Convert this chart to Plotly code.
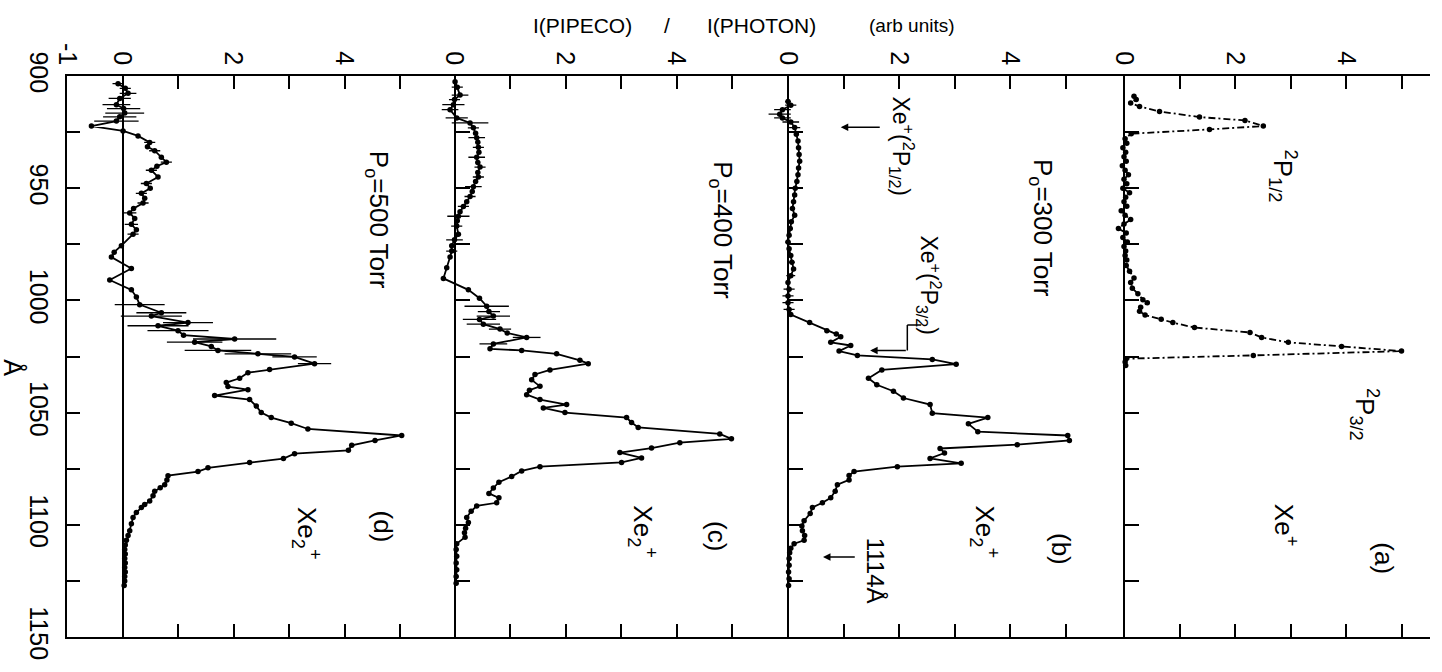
import plotly.graph_objects as go

# ---------------- data ----------------
# Panel (d)  P0 = 500 Torr
lam_d = [903.4, 905.5, 907.7, 910.0, 912.8, 914.5, 916.5, 918.2, 920.1, 922.3,
         924.5, 926.7, 929.6, 931.5, 933.3, 936.2, 938.4, 940.2, 942.0, 945.0,
         947.9, 950.0, 952.3, 954.5, 956.6, 959.0, 961.0, 963.5, 966.1, 968.5,
         970.5, 975.6, 978.5, 980.7, 985.8, 990.9, 995.3, 998.5, 1001.9, 1005.5,
         1007.0, 1009.9, 1011.3, 1013.5, 1015.5, 1017.2, 1018.6, 1020.5, 1022.3, 1023.8,
         1025.2, 1028.2, 1030.8, 1032.2, 1034.7, 1036.6, 1038.4, 1039.8, 1042.4, 1044.2,
         1047.1, 1050.0, 1052.2, 1054.7, 1057.3, 1060.2, 1062.4, 1064.6, 1066.8, 1068.3,
         1070.5, 1072.2, 1074.6, 1076.3, 1078.1, 1080.0, 1082.1, 1083.5, 1085.1, 1087.0,
         1089.4, 1091.0, 1092.3, 1094.5, 1096.7, 1099.5, 1102.6, 1104.8, 1106.9, 1109.0,
         1111.0, 1113.0, 1115.0, 1117.0, 1119.0, 1121.0, 1123.0, 1125.0, 1127.0]
val_d = [-0.08, 0.05, 0.10, -0.05, -0.11, 0.02, 0.04, -0.05, -0.11, -0.56,
         0.01, 0.28, 0.49, 0.45, 0.58, 0.70, 0.79, 0.62, 0.52, 0.64,
         0.43, 0.50, 0.34, 0.40, 0.37, 0.20, 0.13, 0.22, 0.16, 0.25,
         0.19, -0.02, -0.15, -0.20, 0.16, -0.23, 0.16, 0.25, 0.31, 0.70,
         0.52, 1.18, 0.64, 1.00, 1.10, 2.02, 1.30, 1.60, 1.72, 2.44,
         3.10, 3.46, 2.65, 2.26, 2.11, 1.87, 1.90, 2.26, 1.66, 2.29,
         2.41, 2.50, 2.68, 3.04, 3.34, 5.03, 4.55, 4.13, 4.07, 3.10,
         2.90, 2.29, 1.54, 1.36, 0.82, 0.80, 0.76, 0.68, 0.58, 0.55,
         0.49, 0.40, 0.34, 0.25, 0.19, 0.16, 0.13, 0.10, 0.07, 0.05,
         0.04, 0.05, 0.04, 0.05, 0.04, 0.05, 0.04, 0.04, 0.03]
err_d = [0.10, 0.10, 0.15, 0.20, 0.25, 0.30, 0.35, 0.30, 0.40, 0,
         0, 0, 0.10, 0, 0.10, 0, 0.10, 0, 0.10, 0,
         0.10, 0, 0.10, 0, 0.10, 0, 0.12, 0, 0.12, 0,
         0.10, 0, 0, 0, 0, 0, 0, 0, 0.45, 0.45,
         0.55, 0.45, 0.55, 0.55, 0, 0.75, 0.50, 0, 0.60, 0.60,
         0.40, 0.30, 0, 0, 0, 0, 0, 0, 0, 0,
         0, 0, 0, 0, 0, 0, 0, 0, 0, 0,
         0, 0, 0, 0, 0, 0, 0, 0, 0, 0,
         0, 0, 0, 0, 0, 0, 0, 0, 0, 0,
         0, 0, 0, 0, 0, 0, 0, 0, 0]

# Panel (c)  P0 = 400 Torr
lam_c = [902.6, 905.0, 908.5, 910.5, 912.8, 915.0, 918.7, 920.9, 923.1, 925.5,
         927.5, 929.5, 931.8, 934.0, 936.2, 938.5, 940.6, 943.0, 945.0, 947.0,
         949.3, 951.5, 953.7, 956.0, 958.1, 960.5, 962.5, 964.5, 966.9, 970.5,
         973.0, 975.6, 978.0, 980.7, 985.5, 990.2, 995.3, 999.0, 1002.6, 1005.0,
         1007.0, 1008.5, 1010.6, 1012.8, 1014.5, 1016.5, 1019.4, 1021.6, 1022.3, 1023.8,
         1026.7, 1028.2, 1031.0, 1033.0, 1035.4, 1038.3, 1040.0, 1042.0, 1044.2, 1046.4,
         1047.9, 1050.0, 1052.2, 1054.4, 1056.6, 1059.5, 1061.7, 1063.4, 1065.8, 1067.8,
         1070.2, 1072.2, 1074.1, 1076.0, 1078.5, 1081.0, 1083.6, 1086.0, 1088.0, 1090.2,
         1091.6, 1094.0, 1096.7, 1099.0, 1101.5, 1103.5, 1105.5, 1108.4, 1111.0, 1114.0,
         1117.0, 1120.0, 1123.0, 1126.0]
val_c = [0.01, 0.05, 0.10, 0.00, -0.02, -0.08, 0.04, 0.28, 0.34, 0.38,
         0.40, 0.42, 0.43, 0.44, 0.40, 0.42, 0.46, 0.42, 0.43, 0.38,
         0.34, 0.32, 0.28, 0.22, 0.16, 0.10, 0.07, 0.05, 0.04, 0.07,
         0.00, -0.05, -0.05, -0.08, -0.14, -0.20, 0.25, 0.45, 0.58, 0.62,
         0.70, 0.45, 0.52, 0.82, 0.95, 1.30, 0.70, 0.64, 1.21, 1.84,
         2.26, 2.41, 1.72, 1.45, 1.39, 1.54, 1.35, 1.30, 1.54, 2.02,
         1.60, 1.99, 3.10, 3.19, 3.31, 4.78, 4.99, 4.06, 3.55, 2.98,
         3.37, 3.01, 1.54, 1.21, 1.03, 0.80, 0.70, 0.62, 0.80, 0.76,
         0.40, 0.30, 0.22, 0.25, 0.20, 0.18, 0.19, 0.04, 0.03, 0.04,
         0.03, 0.04, 0.03, 0.03]
err_c = [0, 0.10, 0.15, 0.10, 0.20, 0.15, 0.20, 0.33, 0.10, 0,
         0.15, 0, 0.10, 0, 0.15, 0, 0.10, 0, 0.10, 0,
         0.15, 0, 0.10, 0, 0.10, 0, 0.20, 0, 0.10, 0,
         0.15, 0, 0.10, 0, 0, 0, 0, 0, 0.40, 0.20,
         0.30, 0.30, 0.30, 0.20, 0, 0.25, 0.25, 0, 0, 0,
         0, 0, 0, 0, 0, 0, 0, 0, 0, 0,
         0, 0, 0, 0, 0, 0, 0, 0, 0, 0,
         0, 0, 0, 0, 0, 0, 0, 0, 0, 0,
         0, 0, 0, 0, 0, 0, 0, 0, 0, 0,
         0, 0, 0, 0]

# Panel (b)  P0 = 300 Torr
lam_b = [911.4, 913.0, 915.0, 917.0, 918.7, 920.5, 923.0, 926.0, 929.0, 932.0,
         935.0, 938.0, 941.0, 944.0, 947.0, 950.0, 953.0, 956.0, 959.0, 962.0,
         965.0, 968.0, 971.0, 974.0, 977.0, 980.0, 983.0, 986.0, 989.0, 992.0,
         995.0, 998.0, 1001.0, 1004.0, 1006.3, 1009.9, 1013.5, 1015.0, 1016.2, 1018.7,
         1020.1, 1022.6, 1024.5, 1026.3, 1028.4, 1031.0, 1034.7, 1037.6, 1040.5, 1043.5,
         1046.4, 1050.3, 1052.2, 1055.0, 1058.5, 1060.2, 1062.4, 1064.3, 1066.0, 1068.0,
         1070.4, 1072.6, 1074.1, 1076.3, 1078.0, 1080.0, 1082.1, 1085.0, 1088.0, 1090.2,
         1092.3, 1095.0, 1098.2, 1100.5, 1102.6, 1104.8, 1106.9, 1108.4, 1110.5, 1112.5,
         1115.0, 1118.0, 1121.0, 1124.0, 1127.0]
val_b = [0.00, 0.05, -0.10, -0.15, -0.10, 0.05, 0.12, 0.15, 0.18, 0.19,
         0.20, 0.21, 0.19, 0.18, 0.16, 0.13, 0.12, 0.10, 0.08, 0.12,
         0.06, 0.04, 0.02, 0.00, 0.02, 0.05, 0.07, 0.10, 0.05, 0.00,
         0.02, 0.00, 0.00, 0.02, 0.05, 0.39, 0.70, 0.87, 0.95, 0.77,
         1.13, 0.92, 1.25, 2.60, 3.03, 1.69, 1.45, 1.60, 1.90, 2.08,
         2.56, 2.60, 3.60, 3.25, 3.42, 5.04, 5.07, 4.13, 2.74, 2.82,
         2.56, 3.12, 1.97, 1.19, 1.10, 1.10, 0.89, 0.85, 0.77, 0.62,
         0.44, 0.40, 0.29, 0.25, 0.26, 0.30, 0.29, 0.11, 0.05, 0.03,
         0.02, 0.02, 0.01, 0.02, 0.01]
err_b = [0.05, 0.10, 0.15, 0.20, 0.15, 0.15, 0.10, 0, 0, 0,
         0, 0, 0, 0, 0, 0, 0, 0, 0, 0,
         0, 0.05, 0, 0.05, 0, 0, 0.05, 0, 0.08, 0,
         0.10, 0.10, 0.10, 0.10, 0, 0, 0, 0, 0, 0,
         0, 0, 0, 0, 0, 0, 0, 0, 0, 0,
         0, 0, 0, 0, 0, 0, 0, 0, 0, 0,
         0, 0, 0, 0, 0, 0, 0, 0, 0, 0,
         0, 0, 0, 0, 0, 0, 0, 0, 0, 0,
         0, 0, 0, 0, 0]

# Panel (a)  Xe+
lam_a = [909.0, 910.5, 912.0, 913.6, 915.8, 918.3, 919.8, 922.3, 923.8, 925.7,
         928.0, 930.0, 932.0, 934.0, 936.0, 938.0, 940.0, 942.0, 944.0, 946.0,
         948.0, 950.0, 952.0, 954.0, 956.0, 958.0, 960.0, 962.0, 964.0, 966.0,
         968.0, 970.0, 972.0, 974.0, 976.0, 978.0, 980.0, 982.0, 984.4, 987.0,
         990.0, 992.0, 994.6, 997.0, 999.7, 1001.1, 1003.0, 1004.8, 1006.5, 1008.4,
         1009.9, 1012.1, 1014.3, 1016.5, 1018.7, 1020.5, 1022.6, 1024.5, 1026.0, 1027.5,
         1029.0]
val_a = [0.18, 0.22, 0.12, 0.28, 0.64, 1.36, 2.18, 2.51, 1.54, 0.13,
         0.02, 0.05, -0.02, 0.03, 0.00, 0.04, -0.03, 0.02, 0.08, 0.00,
         0.05, -0.02, 0.10, 0.03, 0.00, 0.05, -0.05, 0.02, 0.12, 0.00,
         -0.10, 0.04, -0.02, 0.06, 0.00, 0.03, 0.02, 0.05, 0.04, 0.10,
         0.18, 0.12, 0.15, 0.25, 0.34, 0.42, 0.30, 0.28, 0.38, 0.67,
         0.88, 1.27, 2.27, 2.48, 2.96, 3.92, 5.00, 2.33, 0.04, 0.02,
         0.03]

# axis ticks
lam_ticks = [900, 925, 950, 975, 1000, 1025, 1050, 1075, 1100, 1125, 1150]
lam_ticktext = ['900', '', '950', '', '1000', '', '1050', '', '1100', '', '1150']
int_ticks_d = [-1, 0, 1, 2, 3, 4, 5]
int_text_d = ['-1', '0', '', '2', '', '4', '']
int_ticks = [0, 1, 2, 3, 4, 5]
int_text = ['0', '', '2', '', '4', '']

# ---------------- layout geometry ----------------
W, H = 1442, 672
L, R, T, B = 67, 12, 76, 28
PW = W - L - R
UPX = 55.5          # pixels per intensity unit
EXT = 0.4           # left extension of panels c, b, a (for small negative values)
bounds = [67, 454.5, 788, 1124, 1430]


def fx(px):
    return (px - L) / PW


FONT = "Liberation Sans"
BLACK = "black"

fig = go.Figure()

panels = [
    ("x", "y", lam_d, val_d, err_d, "solid"),
    ("x2", "y2", lam_c, val_c, err_c, "solid"),
    ("x3", "y3", lam_b, val_b, err_b, "solid"),
    ("x4", "y4", lam_a, val_a, None, "7px,3px,2px,3px"),
]
for xa, ya, lam, val, err, dash in panels:
    kw = {}
    if err is not None:
        kw["error_x"] = dict(type="data", array=err, visible=True, thickness=1.3,
                             width=0, color=BLACK)
    fig.add_trace(go.Scatter(
        x=val, y=lam, xaxis=xa, yaxis=ya, mode="lines+markers",
        line=dict(color=BLACK, width=1.8, dash=dash),
        marker=dict(color=BLACK, size=5.5),
        cliponaxis=False, showlegend=False, hoverinfo="skip", **kw))

xcommon = dict(side="top", showline=True, linecolor=BLACK, linewidth=2,
               mirror="ticks", ticks="inside", ticklen=13, tickwidth=1.8,
               tickcolor=BLACK, showgrid=False, tickangle=90,
               tickfont=dict(family=FONT, size=25, color=BLACK),
               ticklabelstandoff=0, fixedrange=True)

fig.update_layout(
    xaxis=dict(domain=[0, fx(bounds[1])], range=[-1, -1 + (bounds[1] - bounds[0]) / UPX],
               anchor="y", tickvals=int_ticks_d, ticktext=int_text_d,
               zeroline=True, zerolinecolor=BLACK, zerolinewidth=1.8, **xcommon),
    xaxis2=dict(domain=[fx(bounds[1] - EXT * UPX), fx(bounds[2])],
                range=[-EXT, (bounds[2] - bounds[1]) / UPX], anchor="y2",
                tickvals=int_ticks, ticktext=int_text, zeroline=False, **xcommon),
    xaxis3=dict(domain=[fx(bounds[2] - EXT * UPX), fx(bounds[3])],
                range=[-EXT, (bounds[3] - bounds[2]) / UPX], anchor="y3",
                tickvals=int_ticks, ticktext=int_text, zeroline=False, **xcommon),
    xaxis4=dict(domain=[fx(bounds[3] - EXT * UPX), 1.0],
                range=[-EXT, (bounds[4] - bounds[3]) / UPX], anchor="y4",
                tickvals=int_ticks, ticktext=int_text, zeroline=False, **xcommon),
)

ycommon = dict(domain=[0, 1], range=[1150, 900], autorange=False, showline=True,
               linecolor=BLACK, linewidth=2, ticks="inside", tickwidth=1.8,
               tickcolor=BLACK, showgrid=False, zeroline=False,
               tickvals=lam_ticks, fixedrange=True)

fig.update_layout(
    yaxis=dict(anchor="x", ticklen=13, ticktext=lam_ticktext, tickangle=90,
               tickfont=dict(family=FONT, size=25, color=BLACK),
               ticklabelstandoff=5, **ycommon),
    yaxis2=dict(anchor="free", position=fx(bounds[1]), ticklen=14,
                showticklabels=False, **ycommon),
    yaxis3=dict(anchor="free", position=fx(bounds[2]), ticklen=14,
                showticklabels=False, **ycommon),
    yaxis4=dict(anchor="free", position=fx(bounds[3]), ticklen=14,
                showticklabels=False, **ycommon),
    yaxis5=dict(anchor="x4", side="right", overlaying="y4", ticklen=14,
                showticklabels=False, **ycommon),
)

# ---------------- annotations ----------------
ann = []


def rot_text(text, x, y, xref, yref, size=26):
    ann.append(dict(text=text, x=x, y=y, xref=xref, yref=yref, showarrow=False,
                    textangle=90, xanchor="center", yanchor="middle",
                    font=dict(family=FONT, size=size, color=BLACK)))


# panel (d)
rot_text("P<sub>o</sub>=500 Torr", 4.6, 964, "x", "y")
rot_text("(d)", 4.69, 1100.7, "x", "y")
rot_text("Xe<sub>2</sub><sup>+</sup>", 3.32, 1104, "x", "y")
# panel (c)
rot_text("P<sub>o</sub>=400 Torr", 4.82, 968.7, "x2", "y2")
rot_text("(c)", 4.73, 1105, "x2", "y2")
rot_text("Xe<sub>2</sub><sup>+</sup>", 3.4, 1103, "x2", "y2")
# panel (b)
rot_text("P<sub>o</sub>=300 Torr", 4.58, 967.8, "x3", "y3")
rot_text("(b)", 4.92, 1110.8, "x3", "y3")
rot_text("Xe<sub>2</sub><sup>+</sup>", 3.55, 1103, "x3", "y3")
rot_text("Xe<sup>+</sup>(<sup>2</sup>P<sub>1/2</sub>)", 2.05, 931.3, "x3", "y3", 23)
rot_text("Xe<sup>+</sup>(<sup>2</sup>P<sub>3/2</sub>)", 2.54, 993.3, "x3", "y3", 23)
rot_text("1114Å", 1.57, 1120.5, "x3", "y3", 24)
# panel (a)
rot_text("<sup>2</sup>P<sub>1/2</sub>", 2.87, 944.5, "x4", "y4")
rot_text("<sup>2</sup>P<sub>3/2</sub>", 4.34, 1051, "x4", "y4")
rot_text("Xe<sup>+</sup>", 2.9, 1100, "x4", "y4")
rot_text("(a)", 4.67, 1115, "x4", "y4")

# arrows in panel (b)
for tail, head, lam in [(1.68, 0.95, 922.8), (2.15, 1.48, 1022.3), (1.23, 0.63, 1114.4)]:
    ann.append(dict(x=head, y=lam, ax=tail, ay=lam, xref="x3", yref="y3",
                    axref="x3", ayref="y3", text="", showarrow=True,
                    arrowhead=2, arrowsize=1, arrowwidth=1.5, arrowcolor=BLACK))

# axis title pieces (top) and wavelength unit (left)
top_y = 1 + (T - 25) / (H - T - B)
for txt, px, size in [("I(PIPECO)", 582, 21), ("/", 667, 21),
                      ("I(PHOTON)", 761, 21), ("(arb units)", 912, 19)]:
    ann.append(dict(text=txt, x=fx(px), y=top_y, xref="paper", yref="paper",
                    showarrow=False, xanchor="center", yanchor="middle",
                    font=dict(family=FONT, size=size, color=BLACK)))
ann.append(dict(text="Å", x=fx(14), y=1 - (372 - T) / (H - T - B), xref="paper",
                yref="paper", showarrow=False, textangle=90, xanchor="center",
                yanchor="middle", font=dict(family=FONT, size=25, color=BLACK)))

shapes = [dict(type="line", xref="x3", yref="y3", x0=2.15, x1=2.15, y0=1011,
               y1=1022.3, line=dict(color=BLACK, width=1.5)),
          dict(type="line", xref="x3", yref="y3", x0=2.15, x1=2.4, y0=1011,
               y1=1011, line=dict(color=BLACK, width=1.5))]

fig.update_layout(
    width=W, height=H, margin=dict(l=L, r=R, t=T, b=B),
    paper_bgcolor="white", plot_bgcolor="rgba(0,0,0,0)",
    annotations=ann, shapes=shapes, showlegend=False,
)

fig.write_html("out.html")
